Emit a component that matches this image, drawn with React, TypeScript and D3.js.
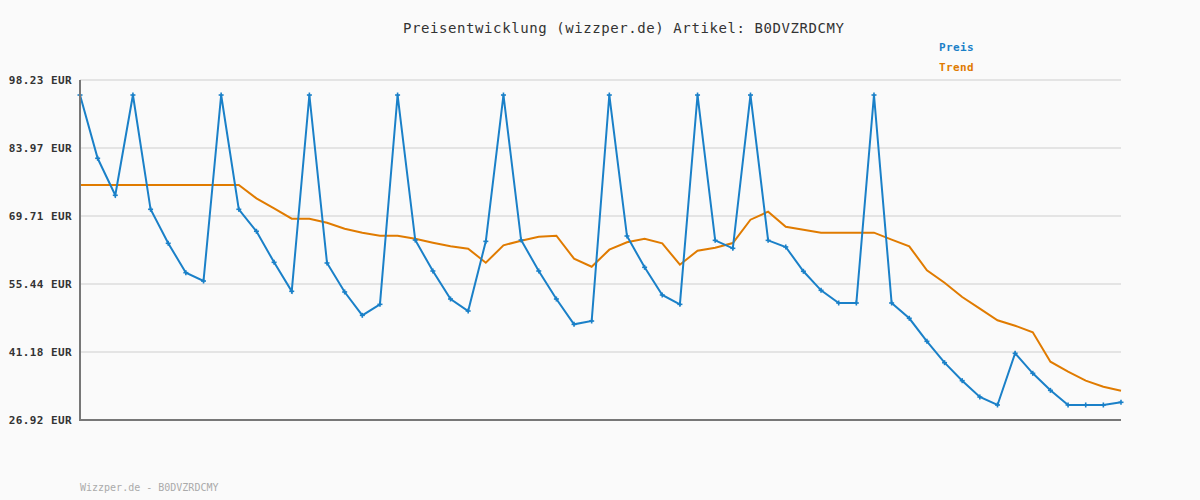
import React from "react";
import * as d3 from "d3";

const title = "Preisentwicklung (wizzper.de) Artikel: B0DVZRDCMY";
const footer = "Wizzper.de - B0DVZRDCMY";
const seriesNames = ["Preis", "Trend"];
const yTicks = [26.92, 41.18, 55.44, 69.71, 83.97, 98.23];

const preis = [
  95.08, 81.81, 74.05, 95.08, 71.11, 63.98, 57.82, 56.07, 95.08, 71.11,
  66.5, 59.99, 53.91, 95.08, 59.85, 53.77, 48.87, 51.18, 95.08, 64.67,
  58.17, 52.3, 49.78, 64.39, 95.08, 64.67, 58.17, 52.3, 46.98, 47.68,
  95.08, 65.51, 58.94, 53.14, 51.18, 95.08, 64.6, 62.93, 95.08, 64.6,
  63.21, 58.11, 54.12, 51.46, 51.46, 95.08, 51.46, 48.25, 43.42, 38.94,
  35.17, 31.74, 30.07, 40.91, 36.71, 33.14, 30.07, 30.07, 30.07, 30.63,
];

const trend = [
  76.21, 76.21, 76.21, 76.21, 76.21, 76.21, 76.21, 76.21, 76.21, 76.21,
  73.42, 71.3, 69.14, 69.14, 68.3, 67.04, 66.21, 65.58, 65.58, 64.95,
  64.11, 63.35, 62.85, 59.91, 63.56, 64.53, 65.37, 65.58, 60.75, 59.07,
  62.64, 64.19, 64.95, 63.98, 59.49, 62.43, 63.06, 64.04, 68.93, 70.61,
  67.46, 66.83, 66.21, 66.21, 66.21, 66.21, 64.74, 63.35, 58.32, 55.72,
  52.72, 50.27, 47.83, 46.7, 45.31, 39.15, 37.05, 35.17, 33.9, 33.07,
];

const W = 1200;
const H = 500;
const left = 80;
const right = 1121;
const top = 80;
const bottom = 420;
const blue = "#1a80c8";
const orange = "#e07b00";
const mono = "'DejaVu Sans Mono', monospace";

export default function App() {
  const x = d3.scaleLinear().domain([0, preis.length - 1]).range([left, right]);
  const y = d3.scaleLinear().domain([yTicks[0], yTicks[yTicks.length - 1]]).range([bottom, top]);
  const line = d3
    .line<number>()
    .x((_, i) => x(i))
    .y((d) => y(d));

  return (
    <svg
      width={W}
      height={H}
      style={{ position: "absolute", left: 0, top: 0, background: "#fafafa" }}
    >
      <rect x={0} y={0} width={W} height={H} fill="#fafafa" />
      <text
        x={403}
        y={33}
        fontFamily={mono}
        fontSize={14}
        textLength={441}
        lengthAdjust="spacing"
        fill="#333"
      >
        {title}
      </text>
      {seriesNames.map((n, i) => (
        <text
          key={n}
          x={939}
          y={51 + i * 20}
          fontFamily={mono}
          fontSize={11}
          fontWeight="bold"
          letterSpacing={0.4}
          fill={i === 0 ? blue : orange}
        >
          {n}
        </text>
      ))}
      {yTicks.map((t) => (
        <g key={t}>
          {t !== yTicks[0] && (
            <line x1={left} x2={right} y1={y(t)} y2={y(t)} stroke="#e4e4e4" strokeWidth={2} />
          )}
          <text
            x={72}
            y={y(t) + 4}
            textAnchor="end"
            fontFamily={mono}
            fontSize={11}
            fontWeight="bold"
            letterSpacing={0.4}
            fill="#333"
          >
            {t.toFixed(2)} EUR
          </text>
        </g>
      ))}
      <path d={line(trend) || ""} fill="none" stroke={orange} strokeWidth={2} />
      <path d={line(preis) || ""} fill="none" stroke={blue} strokeWidth={2} />
      {preis.map((v, i) => (
        <g key={i} stroke={blue} strokeWidth={1.6}>
          <line x1={x(i) - 2.5} x2={x(i) + 2.5} y1={y(v)} y2={y(v)} />
          <line x1={x(i)} x2={x(i)} y1={y(v) - 2.5} y2={y(v) + 2.5} />
        </g>
      ))}
      <line x1={left} x2={left} y1={top} y2={bottom + 1} stroke="#777" strokeWidth={2} />
      <line x1={left - 1} x2={right} y1={bottom} y2={bottom} stroke="#777" strokeWidth={2} />
      <text x={80} y={491} fontFamily={mono} fontSize={10} fill="#aaa">
        {footer}
      </text>
    </svg>
  );
}
